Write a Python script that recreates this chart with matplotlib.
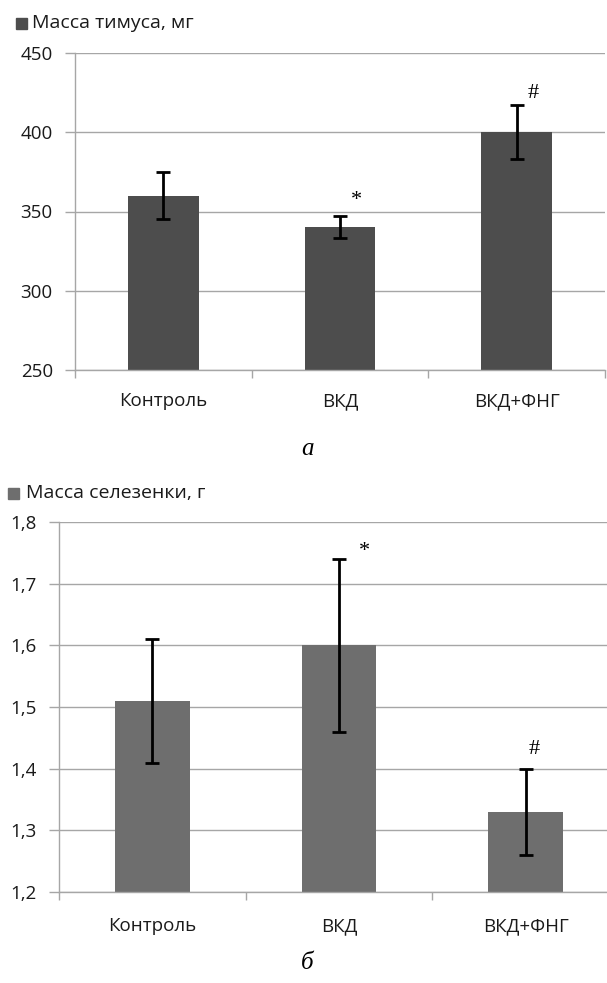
import matplotlib
matplotlib.use("Agg")
import matplotlib.pyplot as plt
from matplotlib.patches import Rectangle
from matplotlib.ticker import FuncFormatter

plt.rcParams['font.family'] = ['Open Sans', 'DejaVu Sans']

categories = ["Контроль", "ВКД", "ВКД+ФНГ"]

thymus_title = "Масса тимуса, мг"
thymus_values = [360, 340, 400]
thymus_err = [15, 7, 17]
thymus_marks = ["", "*", "#"]
thymus_ticks = [250, 300, 350, 400, 450]

spleen_title = "Масса селезенки, г"
spleen_values = [1.51, 1.60, 1.33]
spleen_err = [0.10, 0.14, 0.07]
spleen_marks = ["", "*", "#"]
spleen_ticks = [1.2, 1.3, 1.4, 1.5, 1.6, 1.7, 1.8]

panel_labels = ["а", "б"]

W, H = 607, 983
fig = plt.figure(figsize=(W / 100, H / 100), dpi=100)

GRID = "#a6a6a6"


def px(x0, y0, x1, y1):
    return [x0 / W, 1 - y1 / H, (x1 - x0) / W, (y1 - y0) / H]


def panel(rect, values, err, marks, ticks, color, barw, fmt, mark_off, xpad):
    ax = fig.add_axes(rect)
    x = list(range(len(values)))
    ax.bar(x, values, width=barw, color=color, zorder=2)
    ax.errorbar(x, values, yerr=err, fmt="none", ecolor="black",
                elinewidth=2, capsize=5, capthick=2, zorder=3)
    for i, m in enumerate(marks):
        if m:
            dx, dy = mark_off[m]
            ax.annotate(m, xy=(x[i], values[i] + err[i]), xytext=(dx * 0.72, dy * 0.72),
                        textcoords="offset points", ha="center", va="center",
                        fontsize=16, family="Liberation Serif", zorder=4)
    ax.set_xlim(-0.5, len(values) - 0.5)
    ax.set_ylim(ticks[0], ticks[-1])
    ax.set_yticks(ticks)
    ax.yaxis.set_major_formatter(FuncFormatter(fmt))
    ax.set_xticks(x)
    ax.set_xticklabels(categories)
    ax.set_xticks([i - 0.5 for i in range(len(values) + 1)], minor=True)
    ax.tick_params(axis="x", which="major", length=0, pad=xpad, labelsize=13.5,
                   labelcolor="#1a1a1a")
    ax.tick_params(axis="x", which="minor", length=6, color=GRID, width=1)
    ax.tick_params(axis="y", length=7, color=GRID, width=1, pad=9, labelsize=13.5,
                   labelcolor="#1a1a1a")
    ax.grid(axis="y", color=GRID, lw=1, zorder=0)
    for s in ["top", "right"]:
        ax.spines[s].set_visible(False)
    for s in ["left", "bottom"]:
        ax.spines[s].set_color(GRID)
        ax.spines[s].set_linewidth(1)
    return ax


c1 = "#4d4d4d"
c2 = "#6e6e6e"

panel(px(75, 53, 605, 370), thymus_values, thymus_err, thymus_marks, thymus_ticks,
      c1, 0.40, lambda v, p: f"{v:.0f}", {"*": (16, 16), "#": (17, 12)}, 16)
panel(px(59, 522, 619, 892), spleen_values, spleen_err, spleen_marks, spleen_ticks,
      c2, 0.40, lambda v, p: f"{v:.1f}".replace(".", ","), {"*": (25, 7), "#": (9, 19)}, 18)

# legend-like titles
fig.patches.append(Rectangle((16 / W, 1 - 29 / H), 11 / W, 11 / H, transform=fig.transFigure,
                             color=c1, figure=fig))
fig.text(32 / W, 1 - 23.5 / H, thymus_title, fontsize=14, va="center", ha="left",
         color="#1a1a1a")
fig.patches.append(Rectangle((8 / W, 1 - 499 / H), 11 / W, 11 / H, transform=fig.transFigure,
                             color=c2, figure=fig))
fig.text(26 / W, 1 - 493.5 / H, spleen_title, fontsize=14, va="center", ha="left",
         color="#1a1a1a")

fig.text(307 / W, 1 - 449 / H, panel_labels[0], fontsize=18, style="italic",
         family="Liberation Serif", ha="center", va="center")
fig.text(307 / W, 1 - 963 / H, panel_labels[1], fontsize=18, style="italic",
         family="Liberation Serif", ha="center", va="center")

fig.savefig("out.png", dpi=100)
